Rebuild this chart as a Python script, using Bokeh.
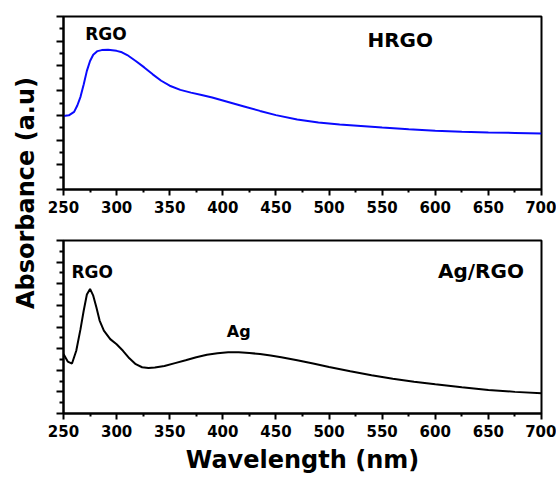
import numpy as np
from bokeh.plotting import figure
from bokeh.layouts import row, column
from bokeh.models import Range1d, FixedTicker, ColumnDataSource, CustomJSTickFormatter
from bokeh.core.properties import value
from bokeh.embed import file_html
from bokeh.resources import INLINE

# ---------------- data ----------------
wl_h = [250, 255, 260, 263, 266, 269, 272, 275, 278, 282,
        286, 292, 300, 305, 310, 318, 326, 334, 342, 350,
        360, 370, 380, 390, 400, 410, 420, 435, 450, 470,
        490, 510, 530, 550, 575, 600, 625, 650, 675, 700]
abs_h = [2.97, 3.0, 3.14, 3.4, 3.75, 4.25, 4.8, 5.2, 5.45, 5.6,
         5.64, 5.65, 5.61, 5.55, 5.44, 5.2, 4.94, 4.66, 4.4, 4.2,
         4.03, 3.92, 3.82, 3.72, 3.6, 3.48, 3.36, 3.18, 3.01, 2.83,
         2.71, 2.63, 2.57, 2.51, 2.44, 2.38, 2.34, 2.31, 2.29, 2.27]

wl_a = [250, 254, 258, 262, 266, 269, 272, 275, 278, 281,
        284, 288, 294, 300, 306, 312, 318, 324, 330, 336,
        345, 355, 365, 375, 385, 395, 405, 415, 425, 435,
        445, 455, 470, 485, 500, 520, 540, 560, 580, 600,
        625, 650, 675, 700]
abs_a = [2.75, 2.4, 2.31, 2.9, 3.9, 4.75, 5.5, 5.76, 5.45, 4.9,
         4.3, 3.83, 3.44, 3.2, 2.9, 2.55, 2.28, 2.14, 2.1, 2.13,
         2.2, 2.33, 2.46, 2.6, 2.72, 2.79, 2.83, 2.83, 2.8, 2.75,
         2.68, 2.6, 2.46, 2.31, 2.15, 1.95, 1.77, 1.61, 1.47, 1.35,
         1.21, 1.09, 1.0, 0.94]

x_ticks = [250, 300, 350, 400, 450, 500, 550, 600, 650, 700]
x_minor = [275, 325, 375, 425, 475, 525, 575, 625, 675]

top_notes_text = ["RGO", "HRGO"]
top_notes_x = [290, 567]
top_notes_y = [6.29, 6.04]
top_notes_size = ["17px", "20px"]

bot_notes_text = ["RGO", "Ag", "Ag/RGO"]
bot_notes_x = [277, 415, 643]
bot_notes_y = [6.56, 3.8, 6.6]
bot_notes_size = ["17px", "16px", "20px"]

FONT = "DejaVu Sans"


def make_panel(ymax, show_xlabel, top_border, bottom_border):
    p = figure(frame_width=478, frame_height=173,
               x_range=Range1d(250, 700), y_range=Range1d(0, ymax),
               output_backend="svg", toolbar_location=None,
               min_border_left=23, min_border_right=15,
               min_border_top=top_border, min_border_bottom=bottom_border)
    p.grid.visible = False
    p.outline_line_color = "black"
    p.outline_line_width = 2
    p.background_fill_color = "white"
    p.border_fill_color = "white"

    xa = p.xaxis[0]
    xa.ticker = FixedTicker(ticks=x_ticks, minor_ticks=x_minor)
    xa.axis_line_width = 2
    xa.major_tick_line_width = 2
    xa.minor_tick_line_width = 2
    xa.major_tick_out = 6
    xa.major_tick_in = 0
    xa.minor_tick_out = 3
    xa.minor_tick_in = 0
    xa.major_label_text_font = FONT
    xa.major_label_text_font_style = "bold"
    xa.major_label_text_font_size = "15px"
    xa.major_label_text_color = "black"
    xa.major_label_standoff = 5
    if show_xlabel:
        xa.axis_label = "Wavelength (nm)"
        xa.axis_label_text_font = FONT
        xa.axis_label_text_font_style = "bold"
        xa.axis_label_text_font_size = "24px"
        xa.axis_label_text_color = "black"
        xa.axis_label_standoff = 6

    ya = p.yaxis[0]
    ya.ticker = FixedTicker(ticks=list(range(0, ymax + 1)),
                            minor_ticks=[i + 0.5 for i in range(ymax)])
    ya.formatter = CustomJSTickFormatter(code="return '';")
    ya.axis_line_width = 2
    ya.major_tick_line_width = 2
    ya.minor_tick_line_width = 2
    ya.major_tick_out = 7
    ya.major_tick_in = 0
    ya.minor_tick_out = 4
    ya.minor_tick_in = 0
    ya.major_label_standoff = 0
    return p


p1 = make_panel(7, False, 16, 39)
p1.line(wl_h, abs_h, line_color="#0a0aff", line_width=2)
src1 = ColumnDataSource(dict(x=top_notes_x, y=top_notes_y, t=top_notes_text, s=top_notes_size))
p1.text(x="x", y="y", text="t", source=src1, text_font=value(FONT),
        text_font_style="bold", text_font_size="s", text_color="black",
        text_align="center", text_baseline="middle")

p2 = make_panel(8, True, 12, 64)
p2.line(wl_a, abs_a, line_color="black", line_width=2)
src2 = ColumnDataSource(dict(x=bot_notes_x, y=bot_notes_y, t=bot_notes_text, s=bot_notes_size))
p2.text(x="x", y="y", text="t", source=src2, text_font=value(FONT),
        text_font_style="bold", text_font_size="s", text_color="black",
        text_align="center", text_baseline="middle")

# y-axis title shared by both panels
lab = figure(width=40, height=477, x_range=Range1d(0, 40), y_range=Range1d(0, 477),
             output_backend="svg", toolbar_location=None,
             min_border=0, min_border_left=0, min_border_right=0,
             min_border_top=0, min_border_bottom=0)
lab.axis.visible = False
lab.grid.visible = False
lab.outline_line_color = None
lab.border_fill_color = "white"
lab.text(x=[25], y=[284.5], text=["Absorbance (a.u)"], angle=np.pi / 2,
         text_font=value(FONT), text_font_style="bold", text_font_size="24px",
         text_color="black", text_align="center", text_baseline="middle")

layout = row(lab, column(p1, p2))
open("out.html", "w").write(file_html(layout, INLINE))
